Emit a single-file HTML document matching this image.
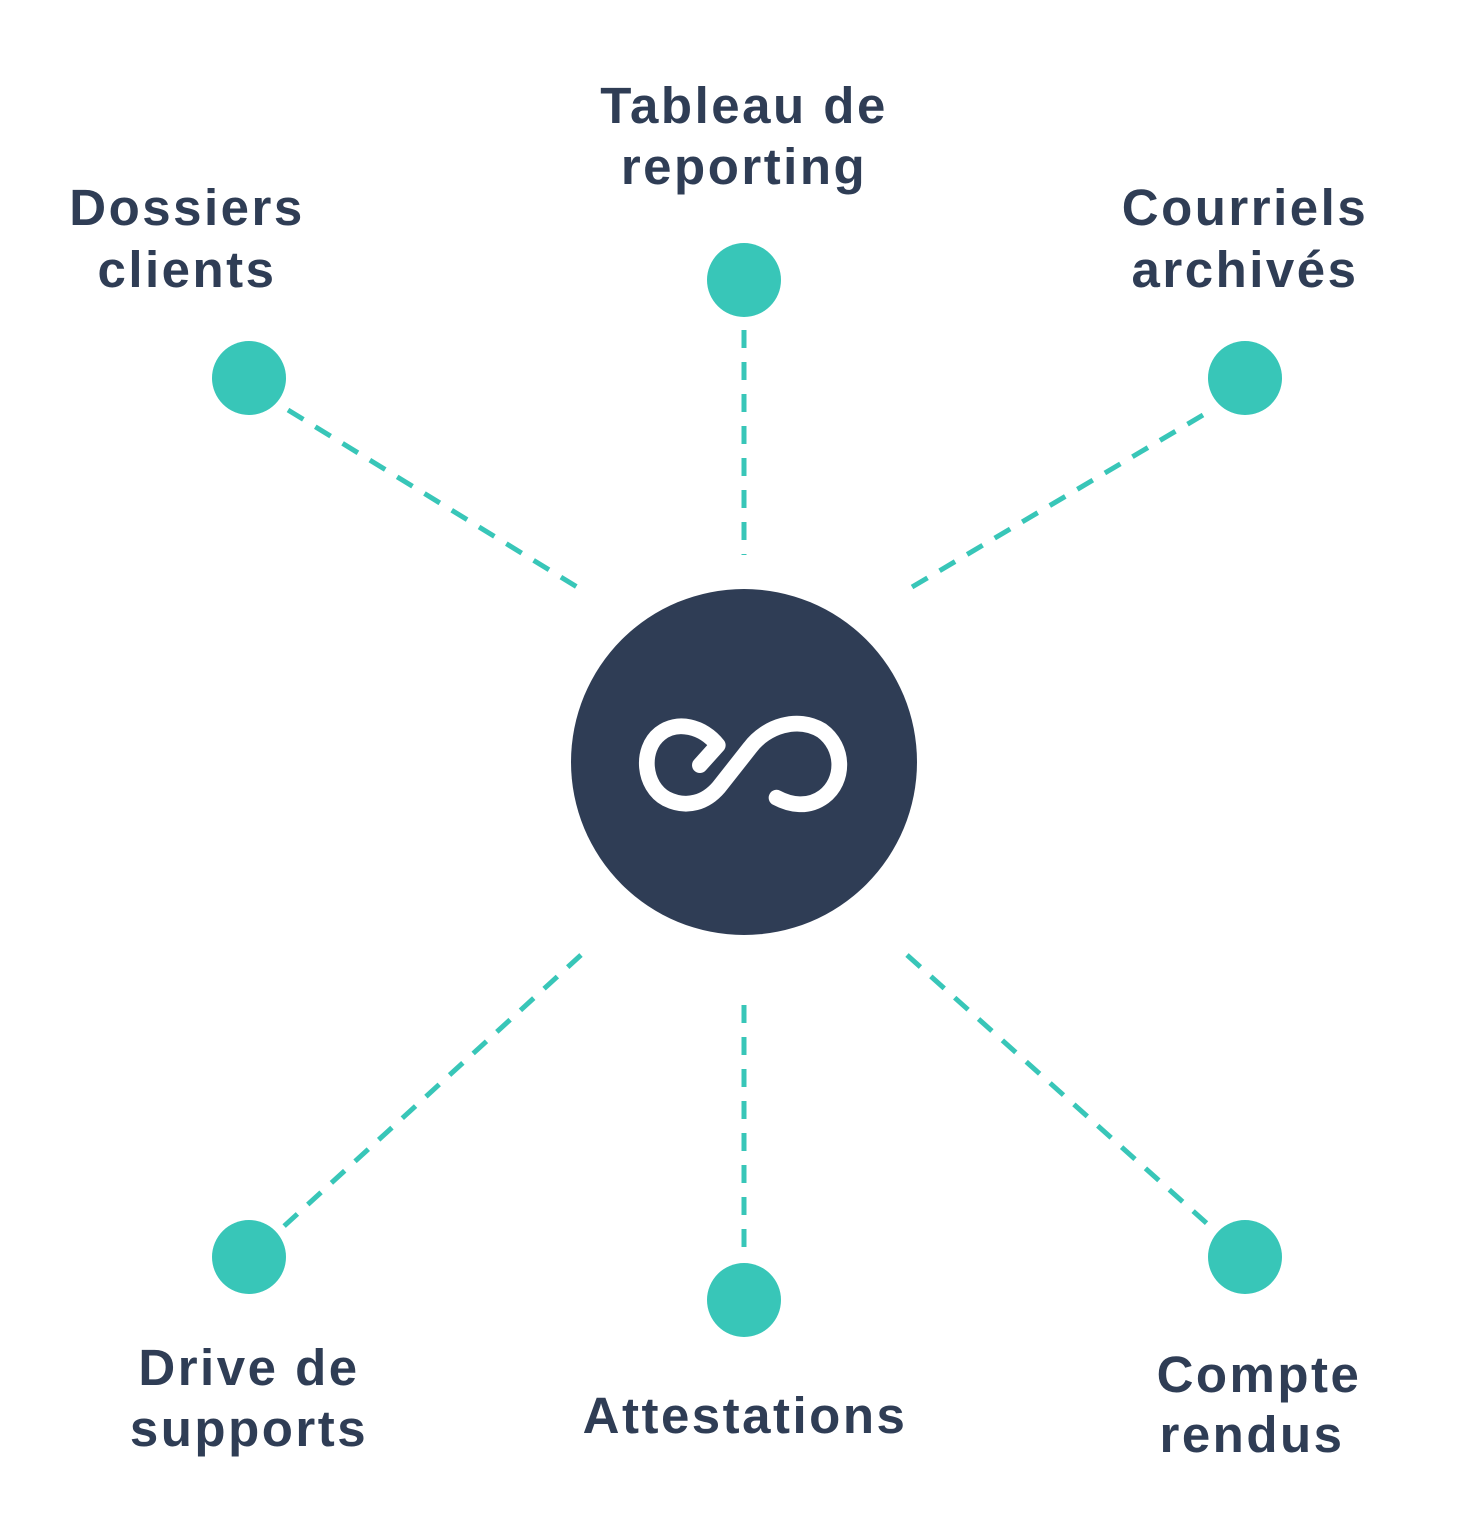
<!DOCTYPE html>
<html><head><meta charset="utf-8"><style>html,body{margin:0;padding:0;background:#fff}svg{display:block}</style></head>
<body>
<svg width="1466" height="1539" viewBox="0 0 1466 1539" xmlns="http://www.w3.org/2000/svg">
<g stroke="#38c6b8" stroke-width="5" stroke-dasharray="18 14" fill="none">
<line x1="744" y1="330" x2="744" y2="555"/>
<line x1="288" y1="410" x2="582" y2="590"/>
<line x1="1203" y1="415" x2="907" y2="590"/>
<line x1="581" y1="955" x2="282" y2="1228"/>
<line x1="744" y1="1005" x2="744" y2="1258"/>
<line x1="907" y1="955" x2="1212" y2="1228"/>
</g>
<g fill="#38c6b8">
<circle cx="249" cy="378" r="37"/><circle cx="744" cy="280" r="37"/><circle cx="1245" cy="378" r="37"/>
<circle cx="249" cy="1257" r="37"/><circle cx="744" cy="1300" r="37"/><circle cx="1245" cy="1257" r="37"/>
</g>
<circle cx="744" cy="762" r="173" fill="#2f3d55"/>
<g transform="translate(744 762) scale(1.05) translate(-744 -762)">
<path d="M702 765 L719 746 C705 728 680 722 664 735 C645 750 648 785 670 797 C690 807 708 800 720 786 L750 748 C765 728 795 718 818 732 C840 748 840 780 820 795 C805 806 788 803 775 796" fill="none" stroke="#fff" stroke-width="15" stroke-linecap="round" stroke-linejoin="round"/>
</g>
<g font-family="Liberation Sans, sans-serif" font-weight="bold" font-size="51" fill="#2f3d55" text-anchor="middle" letter-spacing="2.5">
<text x="187" y="225">Dossiers</text><text x="187" y="287">clients</text>
<text x="744" y="123">Tableau de</text><text x="744" y="184">reporting</text>
<text x="1245" y="225">Courriels</text><text x="1245" y="287">archivés</text>
<text x="249" y="1385">Drive de</text><text x="249" y="1446">supports</text>
<text x="745" y="1433">Attestations</text>
<text x="1259" y="1392">Compte</text><text x="1252" y="1452">rendus</text>
</g>
</svg>
</body></html>
